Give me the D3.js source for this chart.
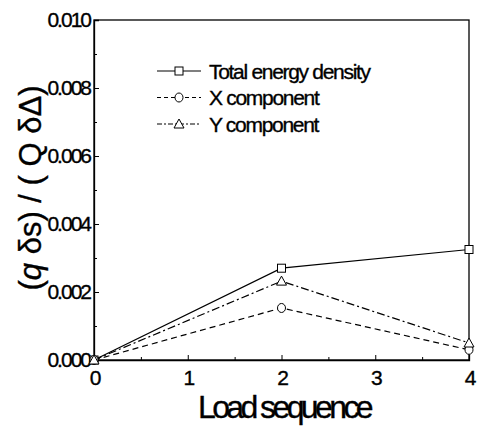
<!DOCTYPE html>
<html>
<head>
<meta charset="utf-8">
<script src="https://cdn.jsdelivr.net/npm/d3@7"></script>
<style>
  body { margin: 0; background: #fff; }
  text { font-family: "Liberation Sans", Arial, sans-serif; fill: #000; stroke: #000; stroke-width: 0.35px; }
</style>
</head>
<body>
<div id="chart"></div>
<script>
var svgWidth = 478;
var svgHeight = 435;

var margin = { top: 20, right: 9, bottom: 75, left: 94 };
var width = svgWidth - margin.left - margin.right;
var height = svgHeight - margin.top - margin.bottom;

// data
var loadSeq = [0, 2, 4];
var totalEnergy = [0.0000, 0.00270, 0.00325];
var xComponent = [0.0000, 0.00153, 0.00030];
var yComponent = [0.0000, 0.00232, 0.00050];
var seriesNames = ["Total energy density", "X component", "Y component"];
var xTicks = [0, 1, 2, 3, 4];
var yTicks = [0, 0.002, 0.004, 0.006, 0.008, 0.010];

var svg = d3.select("#chart")
    .append("svg")
    .attr("width", svgWidth)
    .attr("height", svgHeight);

var chartGroup = svg.append("g")
    .attr("transform", `translate(${margin.left}, ${margin.top})`);

var xScale = d3.scaleLinear().domain([0, 4]).range([0, width]);
var yScale = d3.scaleLinear().domain([0, 0.010]).range([height, 0]);

// frame
chartGroup.append("rect")
    .attr("width", width)
    .attr("height", height)
    .attr("fill", "none")
    .attr("stroke", "#000")
    .attr("stroke-width", 1.3);

// minor ticks
var xMinor = d3.range(0.5, 4, 1);
var yMinor = d3.range(0.001, 0.0100, 0.002);
chartGroup.append("g")
    .attr("transform", `translate(0, ${height})`)
    .call(d3.axisBottom(xScale).tickValues(xMinor).tickSize(-3).tickFormat(""))
    .call(g => g.select(".domain").remove());
chartGroup.append("g")
    .call(d3.axisLeft(yScale).tickValues(yMinor).tickSize(-3).tickFormat(""))
    .call(g => g.select(".domain").remove());

// major axes
var xAxis = chartGroup.append("g")
    .attr("transform", `translate(0, ${height})`)
    .call(d3.axisBottom(xScale).tickValues(xTicks).tickSize(-5).tickPadding(9).tickFormat(d3.format("d")));
var yAxis = chartGroup.append("g")
    .call(d3.axisLeft(yScale).tickValues(yTicks).tickSize(-5).tickPadding(3).tickFormat(d3.format(".3f")));

[xAxis, yAxis].forEach(function(a) {
    a.select(".domain").attr("stroke-width", 1.3);
    a.selectAll("text")
        .style("font-size", "21px")
        .style("letter-spacing", "-2px")
        .attr("fill", "#000");
});
xAxis.selectAll("text").attr("dy", "0.75em");
yAxis.selectAll("text").attr("dx", "-1px");

// lines
var line = d3.line()
    .x((d, i) => xScale(loadSeq[i]))
    .y(d => yScale(d));

var series = [
    { name: seriesNames[0], values: totalEnergy, dash: null, marker: "square" },
    { name: seriesNames[1], values: xComponent, dash: "6,4", marker: "circle" },
    { name: seriesNames[2], values: yComponent, dash: "8,3,2,3", marker: "triangle" }
];

function drawMarker(g, type, x, y) {
    if (type === "square") {
        g.append("rect")
            .attr("x", x - 4).attr("y", y - 4)
            .attr("width", 8).attr("height", 8)
            .attr("fill", "#fff").attr("stroke", "#000").attr("stroke-width", 1);
    } else if (type === "circle") {
        g.append("ellipse")
            .attr("cx", x).attr("cy", y).attr("rx", 4).attr("ry", 4.5)
            .attr("fill", "#fff").attr("stroke", "#000").attr("stroke-width", 1);
    } else {
        g.append("path")
            .attr("d", `M${x},${y - 5}L${x + 5},${y + 4}L${x - 5},${y + 4}Z`)
            .attr("fill", "#fff").attr("stroke", "#000").attr("stroke-width", 1);
    }
}

series.forEach(function(s) {
    chartGroup.append("path")
        .datum(s.values)
        .attr("d", line)
        .attr("fill", "none")
        .attr("stroke", "#000")
        .attr("stroke-width", 1.2)
        .attr("stroke-dasharray", s.dash);
});
series.forEach(function(s) {
    s.values.forEach(function(v, i) {
        drawMarker(chartGroup, s.marker, xScale(loadSeq[i]), yScale(v));
    });
});

// legend
var legend = chartGroup.append("g")
    .attr("transform", "translate(63, 51)");
series.forEach(function(s, i) {
    var row = legend.append("g").attr("transform", `translate(0, ${i * 26.5})`);
    row.append("line")
        .attr("x1", 0).attr("x2", 44).attr("y1", 0).attr("y2", 0)
        .attr("stroke", "#000").attr("stroke-width", 1.1)
        .attr("stroke-dasharray", s.dash === "8,3,2,3" ? "5,2,2,2" : (s.dash ? "4,3" : null));
    drawMarker(row, s.marker, 22, 0);
    row.append("text")
        .attr("x", 52).attr("y", 0).attr("dy", "0.36em")
        .style("font-size", "21px")
        .style("letter-spacing", "-1.3px")
        .text(s.name);
});

// axis titles
svg.append("text")
    .attr("x", 284)
    .attr("y", 418)
    .attr("text-anchor", "middle")
    .style("font-size", "32px")
    .style("letter-spacing", "-3.6px")
    .text("Load sequence");

var yTitle = svg.append("text")
    .attr("transform", `translate(41, 188) rotate(-90)`)
    .attr("text-anchor", "middle")
    .style("font-size", "31px");
yTitle.append("tspan").text("(");
yTitle.append("tspan").style("font-style", "italic").text("q");
yTitle.append("tspan").text(" \u03b4s) / ( Q \u03b4\u0394)");
</script>
</body>
</html>
